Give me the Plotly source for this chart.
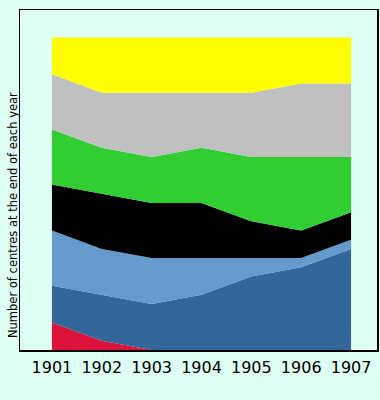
import plotly.graph_objects as go

years = [1901, 1902, 1903, 1904, 1905, 1906, 1907]

# Number of centres per category (stacked bottom to top)
series_red = [3, 1, 0, 0, 0, 0, 0]
series_darkblue = [4, 5, 5, 6, 8, 9, 11]
series_lightblue = [6, 5, 5, 4, 2, 1, 1]
series_black = [5, 6, 6, 6, 4, 3, 3]
series_green = [6, 5, 5, 6, 7, 8, 6]
series_gray = [6, 6, 7, 6, 7, 8, 8]
series_yellow = [4, 6, 6, 6, 6, 5, 5]

layers = [
    ("A", series_red, "#dc143c"),
    ("B", series_darkblue, "#336699"),
    ("C", series_lightblue, "#6699cc"),
    ("D", series_black, "#000000"),
    ("E", series_green, "#32cd32"),
    ("F", series_gray, "#c0c0c0"),
    ("G", series_yellow, "#ffff00"),
]

bg = "#e0fff4"

fig = go.Figure()
for name, vals, col in layers:
    fig.add_trace(go.Scatter(
        x=years, y=vals, name=name, mode="lines",
        stackgroup="one", line=dict(width=0, color=col),
        fillcolor=col, showlegend=False, hoverinfo="skip",
    ))

fig.update_layout(
    width=380, height=400,
    margin=dict(l=20, r=1, t=10, b=50),
    paper_bgcolor=bg, plot_bgcolor=bg,
    font=dict(family="DejaVu Sans", color="#000000"),
    xaxis=dict(
        range=[1900.36, 1907.52], tickvals=years,
        ticktext=[str(y) for y in years],
        tickfont=dict(size=16, color="#000000"),
        showgrid=False, zeroline=False,
        showline=True, linecolor="#000000", linewidth=1.5, mirror=True,
        ticks="outside", ticklen=2, tickcolor="rgba(0,0,0,0)",
    ),
    yaxis=dict(
        range=[0, 37], showticklabels=False, showgrid=False, zeroline=False,
        showline=True, linecolor="#000000", linewidth=1.5, mirror=True,
        ticks="",
    ),
    annotations=[dict(
        text="Number of centres at the end of each year",
        xref="paper", yref="paper", x=-7 / 359, y=(350 - 215) / 340,
        xanchor="center", yanchor="middle", textangle=-90,
        showarrow=False, font=dict(size=11.5, color="#000000", family="DejaVu Sans"),
    )],
)

fig.write_html(
    "out.html",
    config={"displayModeBar": False, "staticPlot": True},
    post_script="document.body.style.margin='0';document.body.style.overflow='hidden';"
                "document.body.style.background='" + bg + "';",
)
